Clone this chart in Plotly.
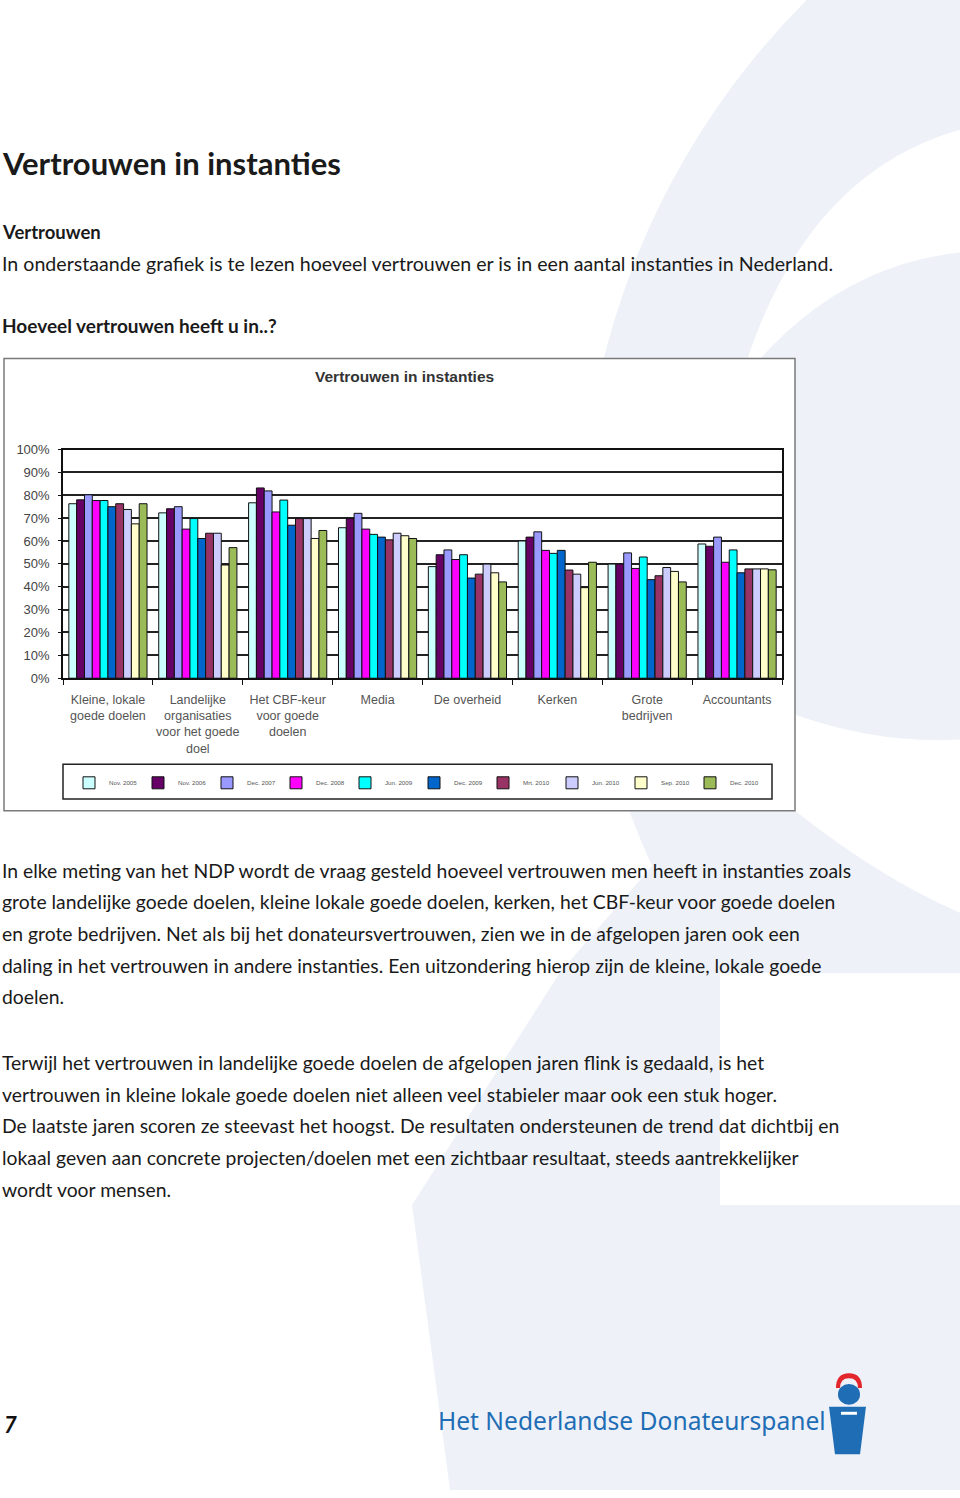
import plotly.graph_objects as go

W, H = 960, 1498

# ---------------- data ----------------
categories = [
    "Kleine, lokale<br>goede doelen",
    "Landelijke<br>organisaties<br>voor het goede<br>doel",
    "Het CBF-keur<br>voor goede<br>doelen",
    "Media",
    "De overheid",
    "Kerken",
    "Grote<br>bedrijven",
    "Accountants",
]
series_names = ["Nov. 2005", "Nov. 2006", "Dec. 2007", "Dec. 2008", "Jun. 2009",
                "Dec. 2009", "Mrt. 2010", "Jun. 2010", "Sep. 2010", "Dec. 2010"]
nov_2005 = [76.3, 72.3, 76.7, 65.8, 48.8, 60.0, 49.9, 58.7]
nov_2006 = [78.0, 74.1, 83.2, 69.8, 54.0, 61.7, 49.9, 57.7]
dec_2007 = [80.2, 75.0, 81.9, 72.1, 56.1, 64.0, 54.8, 61.7]
dec_2008 = [77.7, 65.2, 72.7, 65.2, 51.9, 55.9, 48.0, 50.7]
jun_2009 = [77.7, 69.8, 77.9, 62.9, 54.0, 54.6, 53.0, 56.1]
dec_2009 = [75.0, 61.1, 66.9, 61.7, 43.8, 55.9, 43.1, 46.1]
mrt_2010 = [76.3, 63.4, 69.8, 60.5, 45.5, 47.3, 44.8, 47.8]
jun_2010 = [73.8, 63.4, 69.8, 63.4, 49.9, 45.5, 48.4, 47.8]
sep_2010 = [67.5, 49.5, 61.1, 62.3, 46.1, 39.6, 46.7, 47.8]
dec_2010 = [76.3, 57.1, 64.6, 61.1, 42.1, 50.7, 42.1, 47.4]
series_values = [nov_2005, nov_2006, dec_2007, dec_2008, jun_2009,
                 dec_2009, mrt_2010, jun_2010, sep_2010, dec_2010]
series_colors = ["#CCFFFF", "#660066", "#9999FF", "#FF00FF", "#00FFFF",
                 "#0066CC", "#993366", "#CCCCFF", "#FFFFCC", "#9BBB59"]

# ---------------- helpers (pixel -> paper) ----------------
def px(x):
    return x / W

def py(y):
    return 1 - y / H

def poly(points):
    s = "M " + " L ".join(f"{px(x)},{py(y)}" for x, y in points)
    return s + " Z"

LIGHT = "#EEF2F8"
BLUE = "#1F6DB5"

fig = go.Figure()
for name, vals, col in zip(series_names, series_values, series_colors):
    fig.add_trace(go.Bar(
        name=name, x=categories, y=vals,
        marker=dict(color=col, line=dict(color="#111111", width=1)),
    ))

chart_font = "Liberation Sans, Arial, sans-serif"

fig.update_layout(
    width=W, height=H, autosize=False,
    margin=dict(l=0, r=0, t=0, b=0),
    paper_bgcolor="white",
    plot_bgcolor="rgba(0,0,0,0)",
    barmode="group",
    bargap=0.13,
    bargroupgap=0.0,
    font=dict(family=chart_font, color="#444444"),
    xaxis=dict(
        domain=[px(63), px(782)],
        showline=True, linecolor="#111111", linewidth=1.5, mirror=True,
        ticks="outside", ticklen=5, tickcolor="#111111", tickson="boundaries",
        tickfont=dict(size=12.5, color="#555555", family=chart_font),
        tickangle=0,
        ticklabelstandoff=9,
        showgrid=False,
    ),
    yaxis=dict(
        domain=[py(678), py(447)],
        range=[0, 100], dtick=10, ticksuffix="%",
        showline=True, linecolor="#111111", linewidth=1.5, mirror=True,
        ticks="outside", ticklen=3, tickcolor="#111111",
        showgrid=True, gridcolor="#222222", gridwidth=1.6,
        zeroline=False,
        tickfont=dict(size=13, color="#444444", family=chart_font),
        ticklabelstandoff=6,
    ),
    legend=dict(
        orientation="h",
        x=px(69), y=py(769), xanchor="left", yanchor="top",
        font=dict(size=6.2, color="#555555", family=chart_font),
        entrywidth=24, entrywidthmode="pixels",
        itemwidth=30,
        bgcolor="rgba(0,0,0,0)",
        traceorder="normal",
    ),
)

shapes = []
# ---- background watermark (giant logo) ----
# hat + head
shapes.append(dict(type="circle", xref="paper", yref="paper", layer="below",
                   x0=px(581), x1=px(2143), y0=py(-239), y1=py(1323),
                   fillcolor=LIGHT, line=dict(width=0)))
# body
shapes.append(dict(type="path", xref="paper", yref="paper", layer="below",
                   path=poly([(700, 812), (960, 812), (960, 1498), (450, 1498),
                              (412, 1210), (560, 975)]),
                   fillcolor=LIGHT, line=dict(width=0)))
# white stripe between hat and head
shapes.append(dict(type="path", xref="paper", yref="paper", layer="below",
                   path=f"M {px(960)},{py(124)} Q {px(800)},{py(170)} {px(740)},{py(380)} "
                        f"Q {px(830)},{py(262)} {px(960)},{py(248)} Z",
                   fillcolor="white", line=dict(width=0)))
# white gap between head and body
shapes.append(dict(type="path", xref="paper", yref="paper", layer="below",
                   path=f"M {px(795)},{py(715)} Q {px(880)},{py(745)} {px(960)},{py(740)} "
                        f"L {px(960)},{py(915)} Q {px(880)},{py(880)} {px(795)},{py(812)} Z",
                   fillcolor="white", line=dict(width=0)))
# white badge on body
shapes.append(dict(type="rect", xref="paper", yref="paper", layer="below",
                   x0=px(720), x1=px(960), y0=py(1210), y1=py(976),
                   fillcolor="white", line=dict(width=0)))

# ---- chart frame ----
shapes.append(dict(type="rect", xref="paper", yref="paper", layer="below",
                   x0=px(4), x1=px(795), y0=py(812), y1=py(355),
                   fillcolor="white", line=dict(color="#7a7a7a", width=1.5)))
shapes.append(dict(type="rect", xref="paper", yref="paper", layer="below",
                   x0=px(63), x1=px(772), y0=py(800), y1=py(765),
                   fillcolor="rgba(0,0,0,0)", line=dict(color="#222222", width=1.5)))

# ---- small logo ----
LY = 8
shapes.append(dict(type="path", xref="paper", yref="paper", layer="above",
                   path=f"M {px(836)},{py(1387+LY)} Q {px(836)},{py(1372+LY)} {px(849)},{py(1372+LY)} "
                        f"Q {px(862)},{py(1372+LY)} {px(862)},{py(1387+LY)} "
                        f"L {px(858)},{py(1387+LY)} Q {px(858)},{py(1377+LY)} {px(849)},{py(1377+LY)} "
                        f"Q {px(840)},{py(1377+LY)} {px(840)},{py(1387+LY)} Z",
                   fillcolor="#E2262B", line=dict(width=0)))
shapes.append(dict(type="circle", xref="paper", yref="paper", layer="above",
                   x0=px(838), x1=px(860), y0=py(1404+LY), y1=py(1383+LY),
                   fillcolor=BLUE, line=dict(width=0)))
shapes.append(dict(type="path", xref="paper", yref="paper", layer="above",
                   path=poly([(829, 1406 + LY), (866, 1406 + LY), (860, 1454 + LY), (835, 1454 + LY)]),
                   fillcolor=BLUE, line=dict(width=0)))
shapes.append(dict(type="rect", xref="paper", yref="paper", layer="above",
                   x0=px(841), x1=px(857), y0=py(1414 + LY), y1=py(1411 + LY),
                   fillcolor="white", line=dict(width=0)))

fig.update_layout(shapes=shapes)

# ---------------- text ----------------
TXT = "Lato, Open Sans, sans-serif"
DARK = "#1a1a1a"

def add_text(x, y, text, size, bold=False, color=DARK, family=TXT, anchor="left"):
    fig.add_annotation(
        xref="paper", yref="paper", x=px(x), y=py(y),
        xanchor=anchor, yanchor="middle", showarrow=False,
        text=f"<b>{text}</b>" if bold else text,
        font=dict(size=size, color=color, family=family),
    )

add_text(0, 158, "Vertrouwen in instanties", 31, bold=True)
add_text(0, 227, "Vertrouwen", 18.5, bold=True)
add_text(0, 259, "In onderstaande grafiek is te lezen hoeveel vertrouwen er is in een aantal instanties in Nederland.", 19.6)
add_text(0, 322, "Hoeveel vertrouwen heeft u in..?", 19, bold=True)

para1 = [
    "In elke meting van het NDP wordt de vraag gesteld hoeveel vertrouwen men heeft in instanties zoals",
    "grote landelijke goede doelen, kleine lokale goede doelen, kerken, het CBF-keur voor goede doelen",
    "en grote bedrijven. Net als bij het donateursvertrouwen, zien we in de afgelopen jaren ook een",
    "daling in het vertrouwen in andere instanties. Een uitzondering hierop zijn de kleine, lokale goede",
    "doelen.",
]
for i, line in enumerate(para1):
    add_text(0, 872 + 32 * i, line, 19.35)

para2 = [
    "Terwijl het vertrouwen in landelijke goede doelen de afgelopen jaren flink is gedaald, is het",
    "vertrouwen in kleine lokale goede doelen niet alleen veel stabieler maar ook een stuk hoger.",
    "De laatste jaren scoren ze steevast het hoogst. De resultaten ondersteunen de trend dat dichtbij en",
    "lokaal geven aan concrete projecten/doelen met een zichtbaar resultaat, steeds aantrekkelijker",
    "wordt voor mensen.",
]
for i, line in enumerate(para2):
    add_text(0, 1066 + 32 * i, line, 19.35)

add_text(404, 373, "Vertrouwen in instanties", 15.5, bold=True, color="#333333",
         family=chart_font, anchor="center")

add_text(2, 1432, "<i>7</i>", 22, bold=True, color="#111111")
add_text(436, 1428, "Het Nederlandse Donateurspanel", 24.6, color=BLUE,
         family="Noto Sans, sans-serif")

fig.write_html(
    "out.html",
    config={"responsive": False, "displayModeBar": False},
    post_script="document.body.style.margin='0px';",
)
